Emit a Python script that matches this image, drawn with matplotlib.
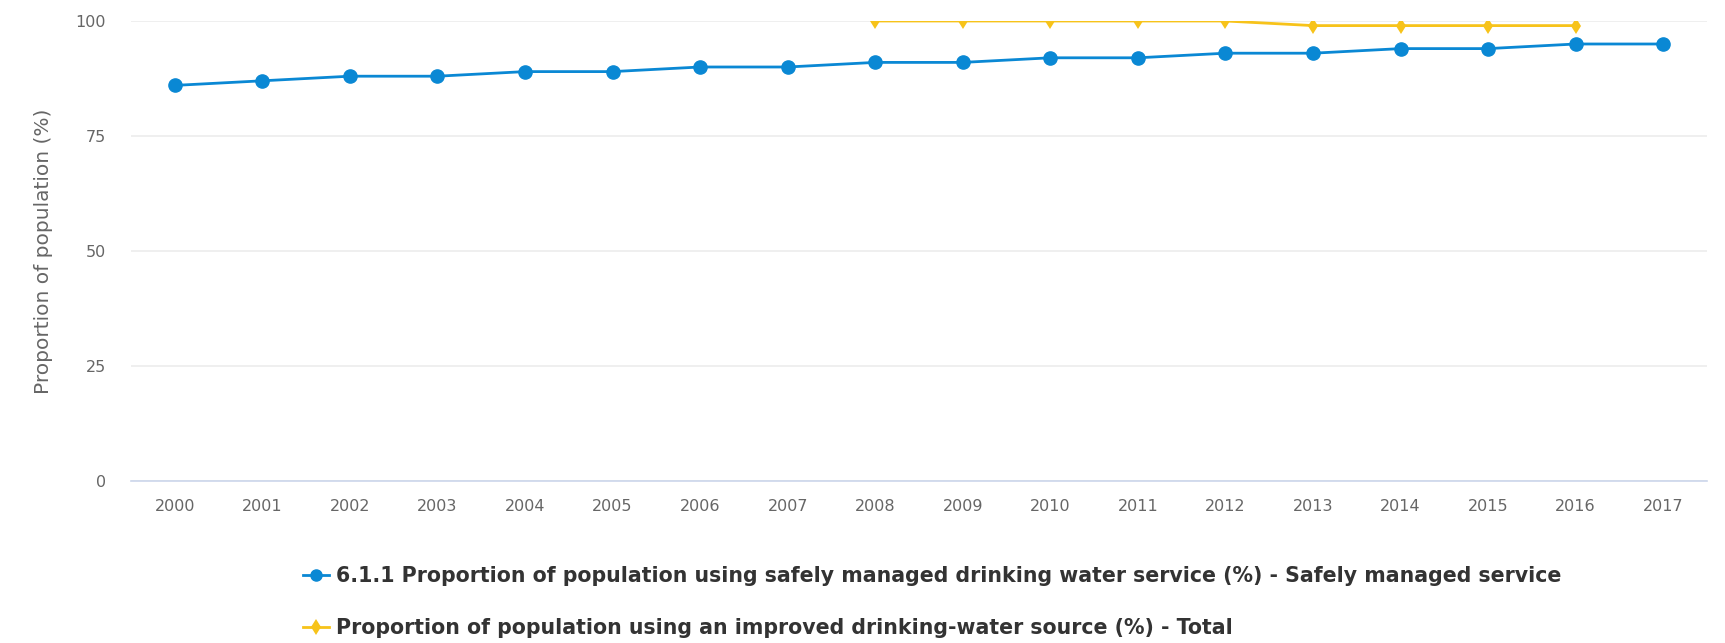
import matplotlib
matplotlib.use("Agg")
import matplotlib.pyplot as plt
from matplotlib.lines import Line2D

years = ["2000", "2001", "2002", "2003", "2004", "2005", "2006", "2007", "2008",
         "2009", "2010", "2011", "2012", "2013", "2014", "2015", "2016", "2017"]
safely_managed = [86, 87, 88, 88, 89, 89, 90, 90, 91, 91, 92, 92, 93, 93, 94, 94, 95, 95]
improved_years = ["2008", "2009", "2010", "2011", "2012", "2013", "2014", "2015", "2016"]
improved_source = [100, 100, 100, 100, 100, 99, 99, 99, 99]
y_ticks = [0, 25, 50, 75, 100]

label1 = "6.1.1 Proportion of population using safely managed drinking water service (%) - Safely managed service"
label2 = "Proportion of population using an improved drinking-water source (%) - Total"

BLUE = "#0a88d4"
YELLOW = "#f7c31a"

plt.rcParams['font.family'] = ['DejaVu Sans']
fig = plt.figure(figsize=(17.25, 6.43), dpi=100)
ax = fig.add_axes([131/1725, 1 - 481/643, (1707-131)/1725, (481-21)/643])

xpos = {y: i for i, y in enumerate(years)}
ax.plot([xpos[y] for y in years], safely_managed, color=BLUE, lw=2, marker='o',
        markersize=9.5, zorder=3)
ax.plot([xpos[y] for y in improved_years], improved_source, color=YELLOW, lw=2,
        marker='d', markersize=8.5, markeredgewidth=0, zorder=3)

ax.set_xlim(-0.5, len(years) - 0.5)
ax.set_ylim(0, 100)
ax.set_xticks(range(len(years)))
ax.set_xticklabels(years)
ax.set_yticks(y_ticks)
ax.tick_params(axis='both', length=0, labelsize=11.5, colors="#666666")
ax.tick_params(axis='x', pad=13)
ax.tick_params(axis='y', pad=18)
ax.grid(axis='y', color="#ececec", lw=1.2)
ax.set_axisbelow(True)
for s in ['top', 'right', 'left']:
    ax.spines[s].set_visible(False)
ax.spines['bottom'].set_color("#ccd6eb")
ax.spines['bottom'].set_linewidth(1.2)
ax.set_ylabel("Proportion of population (%)", color="#666666", fontsize=14.5, labelpad=16)

handles = [
    Line2D([], [], color=BLUE, lw=2, marker='o', markersize=8),
    Line2D([], [], color=YELLOW, lw=2, marker='d', markersize=8, markeredgewidth=0),
]
leg = fig.legend(handles, [label1, label2], loc='upper left',
                 bbox_to_anchor=(303/1725, 1 - 566/643), frameon=False,
                 prop={'weight': 'bold', 'size': 14.8}, labelspacing=1.55,
                 handlelength=1.25, handletextpad=0.35, borderaxespad=0, borderpad=0)
for t in leg.get_texts():
    t.set_color("#333333")

fig.savefig("out.png", dpi=100, facecolor="white")
